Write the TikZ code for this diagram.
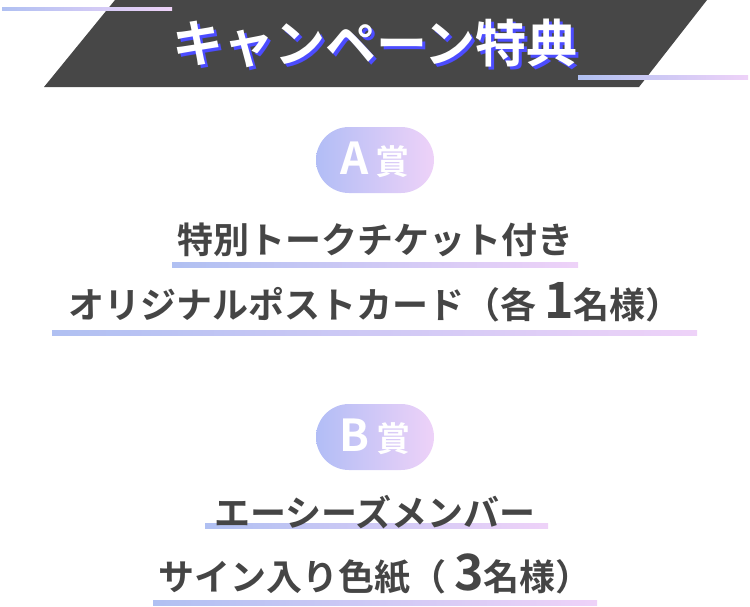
\documentclass[tikz,border=0pt]{standalone}
\usepackage{fontspec}
\newfontfamily\jp{Noto Sans CJK JP Bold}
\definecolor{gA}{HTML}{B0C0F2}
\definecolor{gB}{HTML}{EED2F8}
\definecolor{ink}{HTML}{454545}
\definecolor{dark}{HTML}{474747}
\tikzset{
  x=1pt,y=-1pt,
  uline/.style={left color=gA,right color=gB,draw=none},
  body/.style={font=\jp\fontsize{36}{40}\selectfont,text=ink,inner sep=0pt},
  big/.style={font=\jp\fontsize{50}{50}\selectfont},
  badge/.style={rounded corners=33pt,left color=gA!90!blue!80,right color=gB,draw=none,minimum width=118pt,minimum height=66pt,font=\jp\fontsize{44}{44}\selectfont,text=white,inner sep=0pt}
}
\begin{document}
\begin{tikzpicture}
\useasboundingbox (0,0) rectangle (750,606);
\fill[dark] (115,0) -- (707,0) -- (639,87) -- (44,87) -- cycle;
\shade[uline] (2,7) rectangle (172,10);
\shade[uline] (578,75) rectangle (748,79);
\node[font=\jp\fontsize{51}{51}\selectfont,text=blue!70!white] at (378,46) {キャンペーン特典};
\node[font=\jp\fontsize{51}{51}\selectfont,text=white] (title) at (375,43) {キャンペーン特典};
% A
\node[badge] (ba) at (375,160) {A\,{\fontsize{34}{34}\selectfont 賞}};
\shade[uline] (172,262) rectangle (578,267);
\node[body] (a1) at (375,240) {特別トークチケット付き};
\shade[uline] (52,330) rectangle (697,335);
\node[body] (a2) at (375,302) {オリジナルポストカード（各 {\fontsize{50}{50}\selectfont 1}名様）};
% B
\node[badge] (bb) at (375,437) {B\,{\fontsize{34}{34}\selectfont 賞}};
\shade[uline] (205,523) rectangle (548,528);
\node[body] (b1) at (375,512) {エーシーズメンバー};
\shade[uline] (153,600) rectangle (597,605);
\node[body] (b2) at (375,574) {サイン入り色紙（ {\fontsize{50}{50}\selectfont 3}名様）};
\end{tikzpicture}
\end{document}
